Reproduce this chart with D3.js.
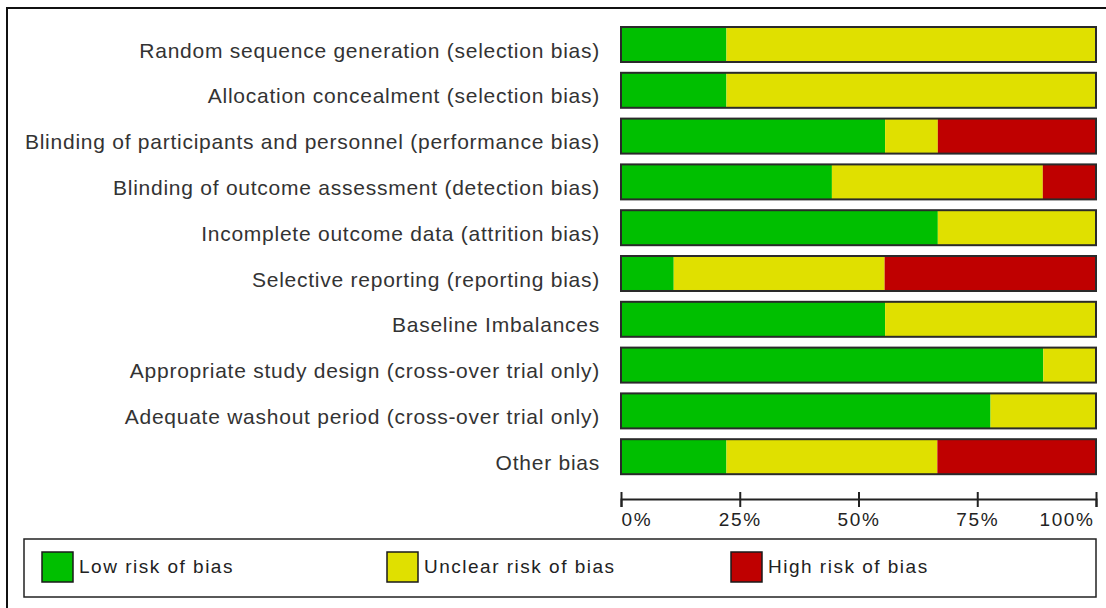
<!DOCTYPE html>
<html>
<head>
<meta charset="utf-8">
<script src="https://cdn.jsdelivr.net/npm/d3@7"></script>
<style>
  body { margin: 0; background: #fff; }
  svg { display: block; }
  .lbl { font-family: "Liberation Sans", Arial, sans-serif; font-size: 21px; fill: #333; letter-spacing: 0.75px; }
  .tick text { font-family: "Liberation Sans", Arial, sans-serif; font-size: 19px; fill: #222; letter-spacing: 1.6px; }
  .leg { font-family: "Liberation Sans", Arial, sans-serif; font-size: 19px; fill: #222; letter-spacing: 1.5px; }
</style>
</head>
<body>
<div id="chart"></div>
<script>
// risk of bias domains, top to bottom
const domains = [
  'Random sequence generation (selection bias)',
  'Allocation concealment (selection bias)',
  'Blinding of participants and personnel (performance bias)',
  'Blinding of outcome assessment (detection bias)',
  'Incomplete outcome data (attrition bias)',
  'Selective reporting (reporting bias)',
  'Baseline Imbalances',
  'Appropriate study design (cross-over trial only)',
  'Adequate washout period (cross-over trial only)',
  'Other bias'
];

// percent of studies per judgement
const lowRisk     = [22.2, 22.2, 55.6, 44.4, 66.7, 11.1, 55.6, 88.9, 77.8, 22.2];
const unclearRisk = [77.8, 77.8, 11.1, 44.4, 33.3, 44.4, 44.4, 11.1, 22.2, 44.4];
const highRisk    = [0,    0,    33.3, 11.1, 0,    44.4, 0,    0,    0,    33.3];

const keys = ['low', 'unclear', 'high'];
const legendLabels = ['Low risk of bias', 'Unclear risk of bias', 'High risk of bias'];
const colours = ['#00bf00', '#e0e000', '#bf0000'];

const tickValues = [0, 25, 50, 75, 100];

const width = 1106, height = 608;

const svg = d3.select('#chart').append('svg')
  .attr('width', width)
  .attr('height', height);

// outer frame (runs off the right and bottom edge)
svg.append('rect')
  .attr('x', 7).attr('y', 8)
  .attr('width', 1300).attr('height', 800)
  .attr('fill', 'none')
  .attr('stroke', '#111')
  .attr('stroke-width', 2);

const x = d3.scaleLinear().domain([0, 100]).range([621, 1096]);

const y = d3.scaleBand()
  .domain(domains)
  .range([21.6, 21.6 + 45.8 * 10])
  .paddingInner(0.236)
  .paddingOuter(0.118);

const color = d3.scaleOrdinal().domain(keys).range(colours);

const rows = domains.map((d, i) => ({name: d, low: lowRisk[i], unclear: unclearRisk[i], high: highRisk[i]}));
const series = d3.stack().keys(keys)(rows);

// bar segments
svg.append('g').selectAll('g')
  .data(series)
  .join('g')
    .attr('fill', d => color(d.key))
  .selectAll('rect')
  .data(d => d)
  .join('rect')
    .attr('x', d => x(d[0]))
    .attr('y', d => y(d.data.name))
    .attr('width', d => x(d[1]) - x(d[0]))
    .attr('height', y.bandwidth());

// outline around each bar
svg.append('g').selectAll('rect')
  .data(rows)
  .join('rect')
    .attr('x', x(0))
    .attr('y', d => y(d.name))
    .attr('width', x(100) - x(0))
    .attr('height', y.bandwidth())
    .attr('fill', 'none')
    .attr('stroke', '#2a2a2a')
    .attr('stroke-width', 2);

// category labels
svg.append('g').selectAll('text')
  .data(domains)
  .join('text')
    .attr('class', 'lbl')
    .attr('x', 600)
    .attr('y', d => y(d) + 30.5)
    .attr('text-anchor', 'end')
    .text(d => d);

// x axis
const axis = svg.append('g')
  .attr('transform', 'translate(0, 499)')
  .call(d3.axisBottom(x)
    .tickValues(tickValues)
    .tickSize(8)
    .tickFormat(d => d + '%'));

axis.select('.domain').attr('stroke', '#222').attr('stroke-width', 2);
axis.selectAll('.tick line').attr('y1', -7).attr('stroke', '#222').attr('stroke-width', 2);
axis.selectAll('.tick text')
  .attr('y', 11)
  .attr('dy', '0.85em')
  .attr('text-anchor', (d, i) => i === 0 ? 'start' : (i === tickValues.length - 1 ? 'end' : 'middle'))
  .attr('dx', (d, i) => i === tickValues.length - 1 ? -2 : 0);

// legend
const legend = svg.append('g');
legend.append('rect')
  .attr('x', 24).attr('y', 539)
  .attr('width', 1072).attr('height', 58)
  .attr('fill', 'none')
  .attr('stroke', '#222')
  .attr('stroke-width', 1.5);

const legendX = [42, 387, 731];
const items = legend.selectAll('g.item')
  .data(keys)
  .join('g')
    .attr('class', 'item')
    .attr('transform', (d, i) => `translate(${legendX[i]}, 552)`);

items.append('rect')
  .attr('width', 31).attr('height', 30)
  .attr('fill', d => color(d))
  .attr('stroke', '#1a1a1a')
  .attr('stroke-width', 1.5);

items.append('text')
  .attr('class', 'leg')
  .attr('x', 37)
  .attr('y', 21)
  .text((d, i) => legendLabels[i]);
</script>
</body>
</html>
